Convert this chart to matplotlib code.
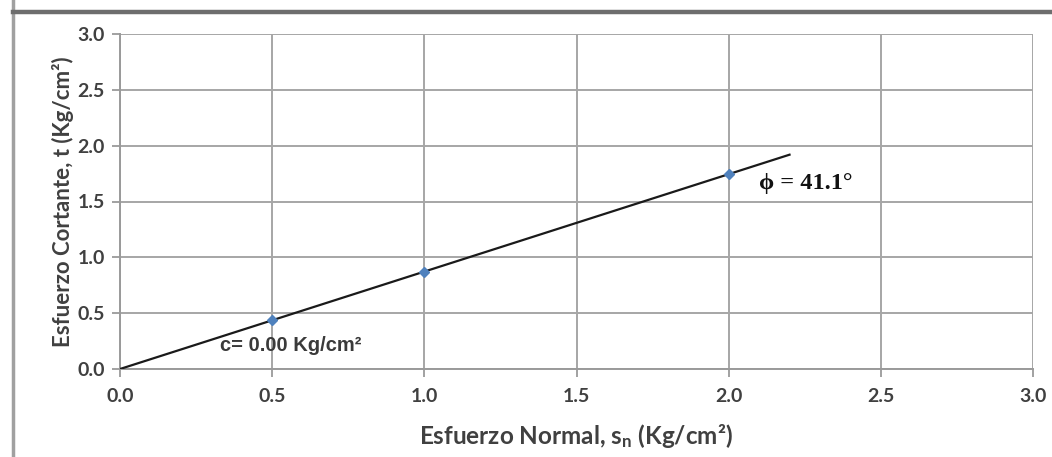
import numpy as np
import matplotlib
matplotlib.use("Agg")
import matplotlib.pyplot as plt
from matplotlib.lines import Line2D

# Direct shear test results
normal_stress = [0.5, 1.0, 2.0]          # Kg/cm2
shear_stress = [0.436, 0.872, 1.745]     # Kg/cm2
cohesion = 0.00                          # Kg/cm2
friction_angle = 41.1                    # degrees
envelope_x = [0.0, 2.2]

x_ticks = [0.0, 0.5, 1.0, 1.5, 2.0, 2.5, 3.0]
y_ticks = [0.0, 0.5, 1.0, 1.5, 2.0, 2.5, 3.0]

plt.rcParams['font.family'] = ['Lato', 'DejaVu Sans']
plt.rcParams['mathtext.fontset'] = 'custom'
plt.rcParams['mathtext.rm'] = 'Lato:bold'
plt.rcParams['mathtext.default'] = 'rm'

fig = plt.figure(figsize=(10.52, 4.57), dpi=100)
ax = fig.add_axes([120 / 1052, 1 - 369 / 457, 913 / 1052, 335 / 457])

# Failure envelope: tau = c + sigma * tan(phi)
slope = np.tan(np.radians(friction_angle))
env_y = [cohesion + slope * v for v in envelope_x]
ax.plot(envelope_x, env_y, color='#1a1a1a', lw=1.6, zorder=3)
ax.plot(normal_stress, shear_stress, linestyle='none', marker='D',
        markersize=5, color='#4F81BD', zorder=4)

ax.set_xlim(0, 3.0)
ax.set_ylim(0, 3.0)
ax.set_xticks(x_ticks)
ax.set_yticks(y_ticks)
ax.set_xticklabels([f"{v:.1f}" for v in x_ticks])
ax.set_yticklabels([f"{v:.1f}" for v in y_ticks])
ax.grid(True, color='#a6a6a6', lw=1.4)
ax.set_axisbelow(True)
for s in ['top', 'right']:
    ax.spines[s].set_visible(False)
for s in ['left', 'bottom']:
    ax.spines[s].set_color('#9a9a9a')
    ax.spines[s].set_linewidth(1.4)
ax.tick_params(axis='both', colors='#9a9a9a', length=6, width=1.3,
               labelcolor='#404040', labelsize=14)
ax.tick_params(axis='x', pad=8)
ax.tick_params(axis='y', pad=5)
for lab in ax.get_xticklabels() + ax.get_yticklabels():
    lab.set_fontweight('bold')

ax.set_xlabel("Esfuerzo Normal, s$_{n}$ (Kg/cm²)", fontsize=17.5,
              fontweight='bold', color='#404040', labelpad=12)
ax.set_ylabel("Esfuerzo Cortante, t (Kg/cm²)", fontsize=16,
              fontweight='bold', color='#404040', labelpad=2)

ax.text(0.33, 0.21, f"c= {cohesion:.2f} Kg/cm²", fontsize=14.5,
        fontweight='bold', color='#3a3a3a',
        family=['Liberation Sans Narrow', 'Liberation Sans', 'DejaVu Sans'],
        va='center', ha='left')
ax.text(2.1, 1.66, f"ϕ = {friction_angle:.1f}°", fontsize=17.5,
        fontweight='bold', color='#111111',
        family=['Liberation Serif', 'DejaVu Serif'], va='center', ha='left')

# Surrounding frame lines
fig.add_artist(Line2D([13 / 1052, 13 / 1052], [0, 1], transform=fig.transFigure,
                      color='#a0a0a0', lw=2.5))
fig.add_artist(Line2D([13 / 1052, 1], [1 - 12 / 457, 1 - 12 / 457],
                      transform=fig.transFigure, color='#6e6e6e', lw=3.2))

fig.savefig("out.png", dpi=100)
